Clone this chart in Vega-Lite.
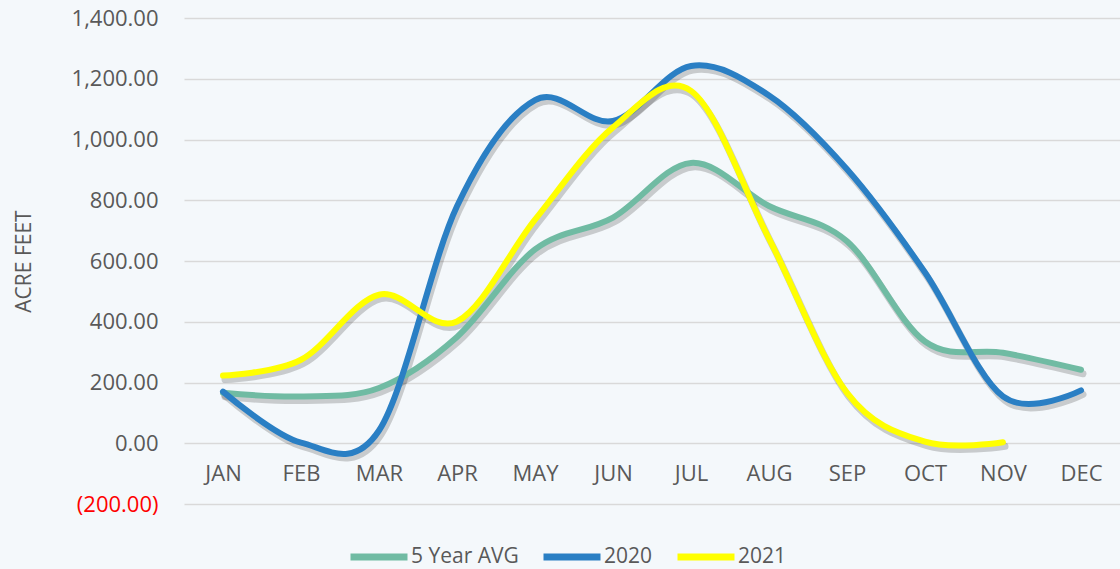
{
  "$schema": "https://vega.github.io/schema/vega-lite/v6.json",
  "width": 936,
  "height": 486,
  "autosize": {"type": "none"},
  "padding": {"left": 184, "top": 18, "right": 0, "bottom": 65},
  "background": "#F4F8FB",
  "config": {
    "view": {"stroke": null},
    "font": "Open Sans"
  },
  "data": {
    "values": [
      {"month": "JAN", "series": "5 Year AVG", "value": 166},
      {"month": "FEB", "series": "5 Year AVG", "value": 154},
      {"month": "MAR", "series": "5 Year AVG", "value": 182},
      {"month": "APR", "series": "5 Year AVG", "value": 350},
      {"month": "MAY", "series": "5 Year AVG", "value": 638},
      {"month": "JUN", "series": "5 Year AVG", "value": 743},
      {"month": "JUL", "series": "5 Year AVG", "value": 923},
      {"month": "AUG", "series": "5 Year AVG", "value": 781},
      {"month": "SEP", "series": "5 Year AVG", "value": 665},
      {"month": "OCT", "series": "5 Year AVG", "value": 335},
      {"month": "NOV", "series": "5 Year AVG", "value": 298},
      {"month": "DEC", "series": "5 Year AVG", "value": 242},
      {"month": "JAN", "series": "2020", "value": 170},
      {"month": "FEB", "series": "2020", "value": 2},
      {"month": "MAR", "series": "2020", "value": 42},
      {"month": "APR", "series": "2020", "value": 780},
      {"month": "MAY", "series": "2020", "value": 1130},
      {"month": "JUN", "series": "2020", "value": 1061},
      {"month": "JUL", "series": "2020", "value": 1242},
      {"month": "AUG", "series": "2020", "value": 1145},
      {"month": "SEP", "series": "2020", "value": 902},
      {"month": "OCT", "series": "2020", "value": 562},
      {"month": "NOV", "series": "2020", "value": 154},
      {"month": "DEC", "series": "2020", "value": 174},
      {"month": "JAN", "series": "2021", "value": 223},
      {"month": "FEB", "series": "2021", "value": 275},
      {"month": "MAR", "series": "2021", "value": 489},
      {"month": "APR", "series": "2021", "value": 401},
      {"month": "MAY", "series": "2021", "value": 736},
      {"month": "JUN", "series": "2021", "value": 1040},
      {"month": "JUL", "series": "2021", "value": 1160},
      {"month": "AUG", "series": "2021", "value": 674},
      {"month": "SEP", "series": "2021", "value": 166},
      {"month": "OCT", "series": "2021", "value": 5},
      {"month": "NOV", "series": "2021", "value": 3}
    ]
  },
  "encoding": {
    "x": {
      "field": "month",
      "type": "ordinal",
      "sort": ["JAN", "FEB", "MAR", "APR", "MAY", "JUN", "JUL", "AUG", "SEP", "OCT", "NOV", "DEC"],
      "scale": {"type": "point", "padding": 0.5},
      "axis": {
        "title": null,
        "orient": "bottom",
        "offset": -61,
        "domain": false,
        "ticks": false,
        "grid": false,
        "labelAngle": 0,
        "labelPadding": 20,
        "labelFontSize": 22,
        "labelColor": "#595959",
        "labelFont": "Open Sans"
      }
    },
    "y": {
      "field": "value",
      "type": "quantitative",
      "scale": {"domain": [-200, 1400], "nice": false, "zero": false},
      "axis": {
        "title": "ACRE FEET",
        "titleFontSize": 21,
        "titleFontWeight": "normal",
        "titleColor": "#595959",
        "titlePadding": 37,
        "titleFont": "Open Sans",
        "values": [-200, 0, 200, 400, 600, 800, 1000, 1200, 1400],
        "domain": false,
        "ticks": false,
        "grid": true,
        "gridColor": "#D9D9D9",
        "gridWidth": 1.5,
        "labelPadding": 26,
        "labelFontSize": 22,
        "labelFont": "Open Sans",
        "labelColor": {"condition": {"test": "datum.value < 0", "value": "#FF0000"}, "value": "#595959"},
        "labelExpr": "datum.value < 0 ? '(' + format(-datum.value, ',.2f') + ')' : format(datum.value, ',.2f')"
      }
    }
  },
  "layer": [
    {
      "mark": {"type": "line", "interpolate": "cardinal", "strokeWidth": 7, "color": "#000000", "opacity": 0.18, "xOffset": 2, "yOffset": 4, "strokeCap": "round"},
      "encoding": {"detail": {"field": "series", "type": "nominal"}}
    },
    {
      "mark": {"type": "line", "interpolate": "cardinal", "strokeWidth": 6, "strokeCap": "round", "strokeJoin": "round"},
      "encoding": {
        "color": {
          "field": "series",
          "type": "nominal",
          "scale": {"domain": ["5 Year AVG", "2020", "2021"], "range": ["#70BBA3", "#2A7FC4", "#FFFF00"]},
          "legend": {
            "title": null,
            "orient": "none",
            "direction": "horizontal",
            "legendX": 163,
            "legendY": 507,
            "symbolType": "stroke",
            "symbolSize": 3249,
            "symbolStrokeWidth": 7,
            "labelFontSize": 21,
            "labelFont": "Open Sans",
            "labelColor": "#595959",
            "labelOffset": 0,
            "columnPadding": 10
          }
        }
      }
    }
  ]
}
